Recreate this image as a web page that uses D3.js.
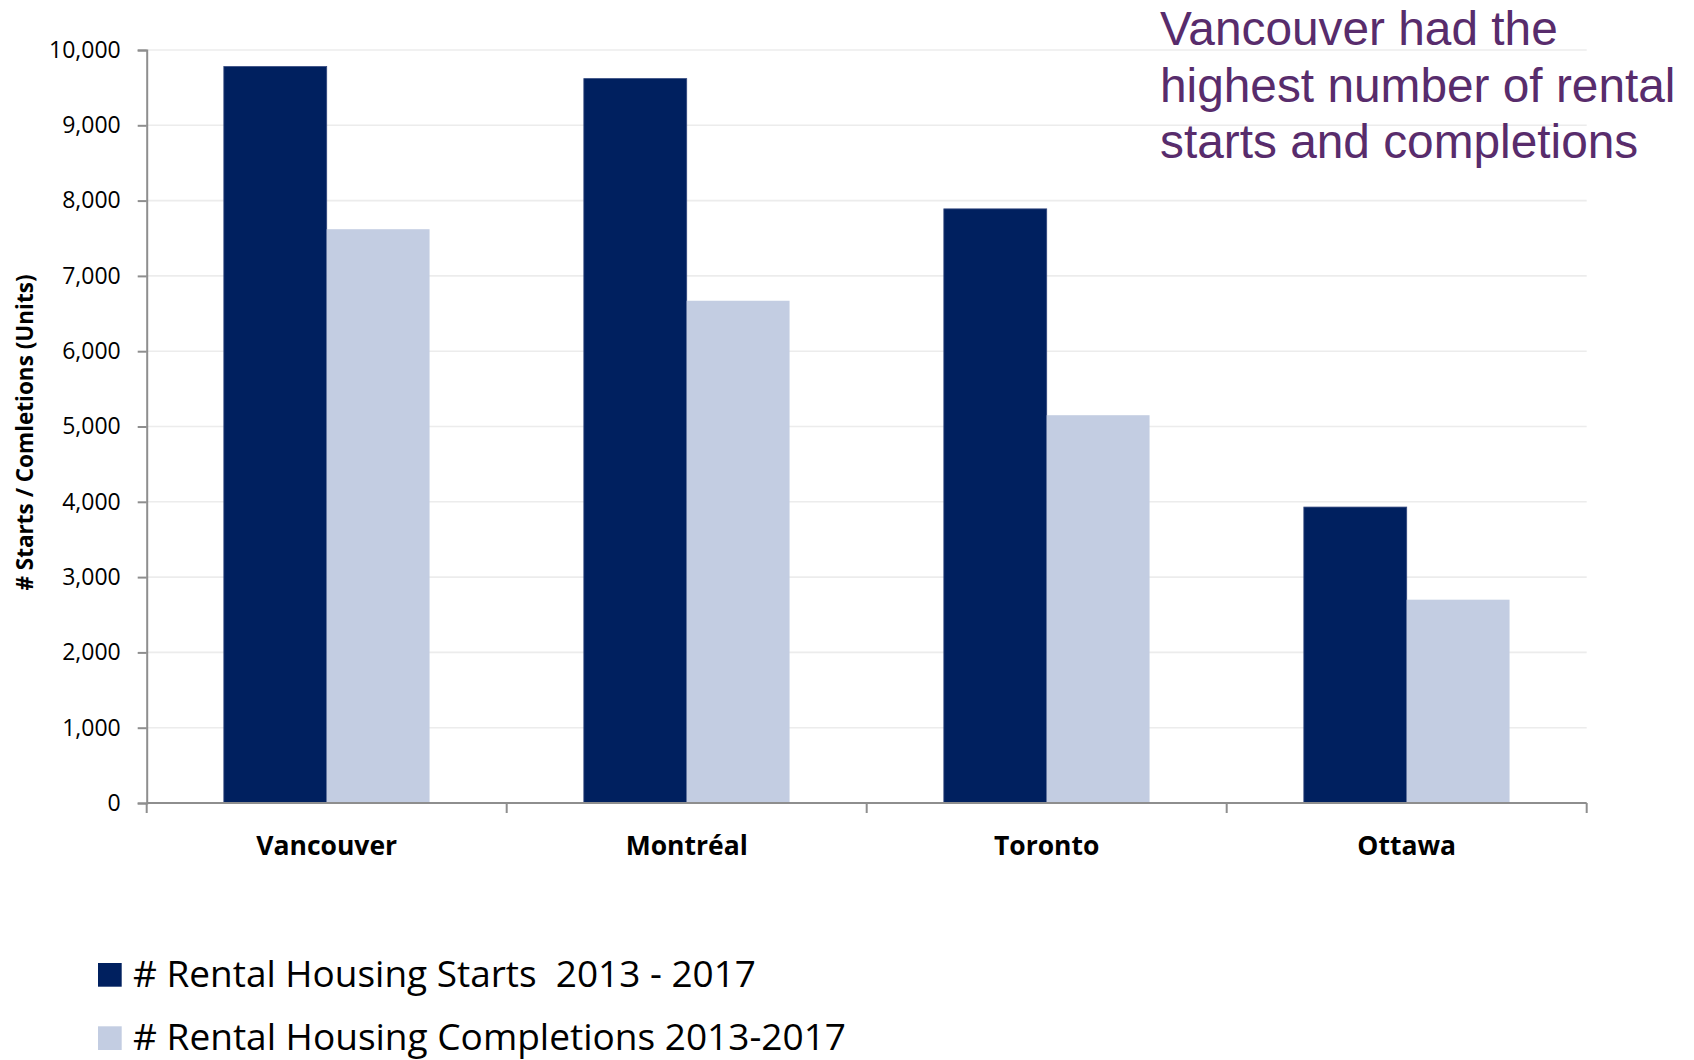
<!DOCTYPE html>
<html>
<head>
<meta charset="utf-8">
<script src="https://cdn.jsdelivr.net/npm/d3@7"></script>
<style>
  html, body { margin: 0; padding: 0; background: #fff; }
  svg { display: block; }
  text { white-space: pre; }
</style>
</head>
<body>
<div id="chart"></div>
<script>
// city totals
const cities = ['Vancouver', 'Montréal', 'Toronto', 'Ottawa'];
const seriesNames = ['# Rental Housing Starts  2013 - 2017', '# Rental Housing Completions 2013-2017'];
const starts = [9780, 9620, 7890, 3930];
const completions = [7620, 6670, 5150, 2700];
const yTicks = [0, 1000, 2000, 3000, 4000, 5000, 6000, 7000, 8000, 9000, 10000];
const noteLines = ['Vancouver had the', 'highest number of rental', 'starts and completions'];

const colors = ['#00205F', '#C3CDE2'];
const width = 1694, height = 1060;
const plotLeft = 146.7, plotRight = 1586.7, plotTop = 50, plotBottom = 803;
const calib = '"Open Sans", "Noto Sans", sans-serif';

const svg = d3.select('#chart').append('svg')
    .attr('width', width)
    .attr('height', height);

const x = d3.scaleBand().domain(cities).range([plotLeft, plotRight]).padding(0);
const xs = d3.scaleBand().domain([0, 1]).range([0, x.bandwidth()])
    .paddingInner(0).paddingOuter(0.75);
const y = d3.scaleLinear().domain([0, 10000]).range([plotBottom, plotTop]);

// gridlines
svg.append('g')
    .selectAll('line')
    .data(yTicks.filter(d => d > 0))
    .enter().append('line')
    .attr('x1', plotLeft).attr('x2', plotRight)
    .attr('y1', d => y(d)).attr('y2', d => y(d))
    .attr('stroke', '#ECECEC')
    .attr('stroke-width', 1.6);

// bars
const rows = cities.map((c, i) => ({ city: c, vals: [starts[i], completions[i]] }));
const groups = svg.append('g').selectAll('g')
    .data(rows)
    .enter().append('g')
    .attr('transform', d => `translate(${x(d.city)},0)`);

groups.selectAll('rect')
    .data(d => d.vals.map((v, k) => ({ k, v })))
    .enter().append('rect')
    .attr('x', d => xs(d.k))
    .attr('width', xs.bandwidth())
    .attr('y', d => y(d.v))
    .attr('height', d => y(0) - y(d.v))
    .attr('fill', d => colors[d.k])
    .attr('stroke', d => d.k === 0 ? '#33487F' : 'none')
    .attr('stroke-width', 0.8);

// y axis
const yAxis = svg.append('g')
    .attr('transform', `translate(${plotLeft},0)`)
    .call(d3.axisLeft(y).tickValues(yTicks).tickSize(9).tickPadding(17)
        .tickFormat(d3.format(',')));
yAxis.select('.domain').attr('stroke', '#8E8E8E').attr('stroke-width', 2);
yAxis.selectAll('.tick line').attr('stroke', '#8E8E8E').attr('stroke-width', 2);
yAxis.selectAll('.tick text')
    .attr('fill', '#000')
    .style('font-family', calib)
    .style('font-size', '23px');

// x axis: baseline with ticks between categories
const xAxisG = svg.append('g');
xAxisG.append('line')
    .attr('x1', plotLeft).attr('x2', plotRight)
    .attr('y1', y(0)).attr('y2', y(0))
    .attr('stroke', '#8E8E8E').attr('stroke-width', 2);
const edges = cities.map(c => x(c)).concat([x(cities[cities.length - 1]) + x.bandwidth()]);
xAxisG.selectAll('.xt')
    .data(edges)
    .enter().append('line')
    .attr('class', 'xt')
    .attr('x1', d => d).attr('x2', d => d)
    .attr('y1', y(0)).attr('y2', y(0) + 10)
    .attr('stroke', '#8E8E8E').attr('stroke-width', 2);
xAxisG.selectAll('.xl')
    .data(cities)
    .enter().append('text')
    .attr('class', 'xl')
    .attr('x', d => x(d) + x.bandwidth() / 2)
    .attr('y', 855)
    .attr('text-anchor', 'middle')
    .style('font-family', calib)
    .style('font-weight', 'bold')
    .style('font-size', '26.5px')
    .text(d => d);

// y axis title
svg.append('text')
    .attr('transform', `translate(33,${(plotTop + plotBottom) / 2 + 6}) rotate(-90)`)
    .attr('text-anchor', 'middle')
    .style('font-family', calib)
    .style('font-weight', 'bold')
    .style('font-size', '22.5px')
    .text('# Starts / Comletions (Units)');

// legend
const legend = svg.append('g');
const legendY = [986.7, 1050];
const legendW = [623, 713];
seriesNames.forEach((name, i) => {
    legend.append('rect')
        .attr('x', 98).attr('y', legendY[i] - 23.7)
        .attr('width', 23.7).attr('height', 23.7)
        .attr('fill', colors[i]);
    legend.append('text')
        .attr('x', 133).attr('y', legendY[i])
        .attr('textLength', legendW[i])
        .attr('lengthAdjust', 'spacingAndGlyphs')
        .style('font-family', calib)
        .style('font-size', '37px')
        .text(name);
});

// note in the top right
svg.append('g').selectAll('text')
    .data(noteLines)
    .enter().append('text')
    .attr('x', 1160)
    .attr('y', (d, i) => 45 + i * 56.5)
    .attr('fill', '#582C6C')
    .style('font-family', '"Liberation Sans", Arial, sans-serif')
    .style('font-size', '47.8px')
    .text(d => d);
</script>
</body>
</html>
